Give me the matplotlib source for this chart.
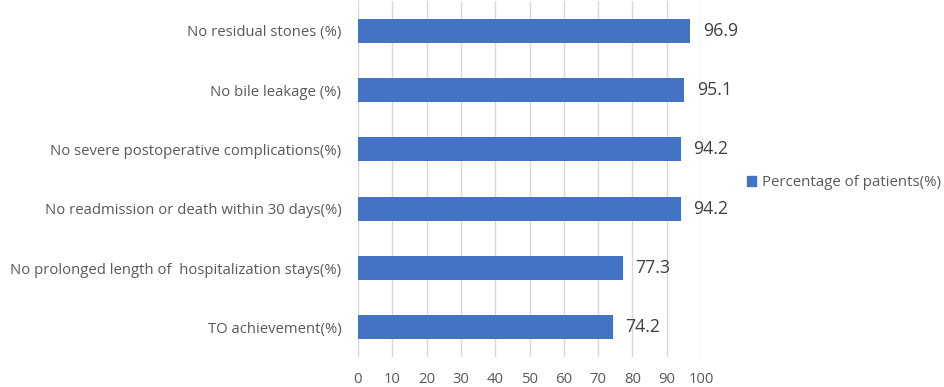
import matplotlib.pyplot as plt
from matplotlib.patches import Patch

categories = [
    'No residual stones (%)',
    'No bile leakage (%)',
    'No severe postoperative complications(%)',
    'No readmission or death within 30 days(%)',
    'No prolonged length of  hospitalization stays(%)',
    'TO achievement(%)',
]
values = [96.9, 95.1, 94.2, 94.2, 77.3, 74.2]
series_name = 'Percentage of patients(%)'
xticks = list(range(0, 101, 10))

plt.rcParams['font.family'] = ['Open Sans', 'DejaVu Sans']
text_color = '#595959'
bar_color = '#4472C4'

fig = plt.figure(figsize=(9.44, 3.87), dpi=100)
ax = fig.add_axes([358 / 944, 1 - 357 / 387, (701 - 358) / 944, 356 / 387])

pos = list(range(len(categories)))
bars = ax.barh(pos, values, height=0.41, color=bar_color, zorder=3)
ax.set_ylim(len(categories) - 0.5, -0.5)
ax.set_xlim(0, 100)

for b, v in zip(bars, values):
    ax.annotate(f'{v:.1f}', (b.get_width(), b.get_y() + b.get_height() / 2),
                xytext=(9, 0), textcoords='offset points',
                va='center', ha='left', fontsize=12.8, color='#404040')

ax.set_yticks(pos)
ax.set_yticklabels(categories, fontsize=10.7, color=text_color)
ax.set_xticks(xticks)
ax.set_xticklabels([str(t) for t in xticks], fontsize=10.7, color=text_color)
ax.tick_params(axis='both', length=0)
ax.tick_params(axis='y', pad=12)
ax.tick_params(axis='x', pad=11)
ax.grid(axis='x', color='#d9d9d9', linewidth=1, zorder=0)
for s in ax.spines.values():
    s.set_visible(False)

fig.legend(handles=[Patch(color=bar_color, label=series_name)],
           loc='center left', bbox_to_anchor=(733 / 944, 1 - 183 / 387),
           frameon=False, fontsize=10.8, labelcolor=text_color,
           handlelength=0.6, handleheight=0.6, handletextpad=0.4)

fig.savefig('out.png', dpi=100)
